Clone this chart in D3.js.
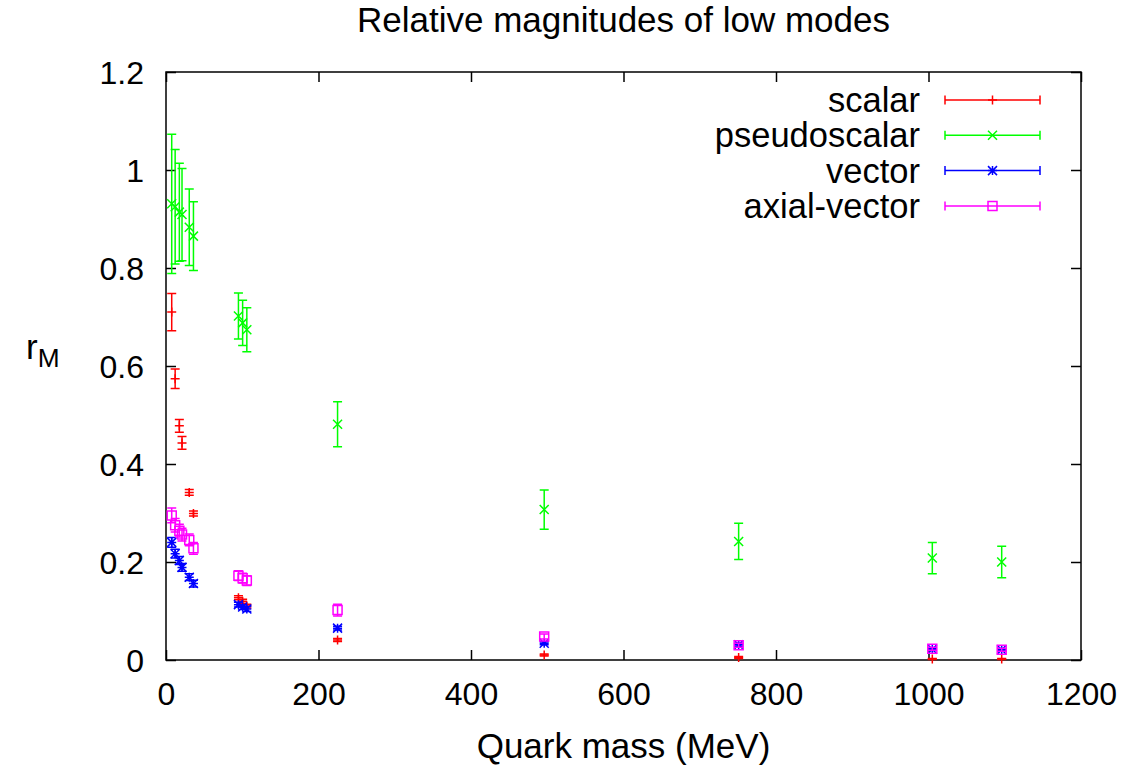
<!DOCTYPE html>
<html><head><meta charset="utf-8">
<script src="https://cdn.jsdelivr.net/npm/d3@7"></script>
<style>
html,body{margin:0;padding:0;background:#fff;}
text{font-family:"Liberation Sans",Arial,Helvetica,sans-serif;fill:#000;}
</style></head>
<body>
<svg id="chart" width="1132" height="768"></svg>
<script>
// ---- data ----
const chartTitle = "Relative magnitudes of low modes";
const xLabel = "Quark mass (MeV)";
const quarkMass = [7.5, 12, 17.5, 21, 30.5, 36, 95, 100.5, 106, 225, 496, 751, 1005, 1096];
const seriesNames = ["scalar", "pseudoscalar", "vector", "axial-vector"];
const scalarVal = [0.710, 0.574, 0.478, 0.443, 0.342, 0.299, 0.127, 0.120, 0.110, 0.041, 0.010, 0.005, 0.002, 0.002];
const scalarErr = [0.038, 0.020, 0.013, 0.013, 0.006, 0.005, 0.004, 0.004, 0.004, 0.003, 0.002, 0.002, 0.001, 0.001];
const pseudoVal = [0.931, 0.925, 0.914, 0.909, 0.883, 0.865, 0.702, 0.688, 0.674, 0.481, 0.307, 0.242, 0.208, 0.200];
const pseudoErr = [0.142, 0.117, 0.100, 0.094, 0.078, 0.070, 0.047, 0.046, 0.045, 0.046, 0.040, 0.037, 0.032, 0.032];
const vectorVal = [0.240, 0.217, 0.203, 0.189, 0.169, 0.156, 0.113, 0.108, 0.104, 0.065, 0.034, 0.031, 0.022, 0.021];
const vectorErr = [0.010, 0.009, 0.008, 0.008, 0.007, 0.007, 0.005, 0.005, 0.005, 0.004, 0.003, 0.003, 0.002, 0.002];
const axialVal  = [0.295, 0.275, 0.264, 0.256, 0.245, 0.228, 0.172, 0.167, 0.162, 0.102, 0.048, 0.030, 0.023, 0.021];
const axialErr  = [0.015, 0.014, 0.013, 0.013, 0.012, 0.012, 0.010, 0.010, 0.010, 0.012, 0.005, 0.004, 0.003, 0.003];
const xTicks = [0, 200, 400, 600, 800, 1000, 1200];
const yTicks = [0, 0.2, 0.4, 0.6, 0.8, 1, 1.2];

// ---- layout ----
const W = 1132, H = 768;
const M = {left:166, right:1081, top:72, bottom:660};
const FS = 32, FS_T = 35, FS_L = 34.5;
const svg = d3.select("#chart");
const x = d3.scaleLinear().domain([0,1200]).range([M.left, M.right]);
const y = d3.scaleLinear().domain([0,1.2]).range([M.bottom, M.top]);

const colors = ["#ff0000", "#00ff00", "#0000ff", "#ff00ff"];
const series = [
  {name:seriesNames[0], val:scalarVal, err:scalarErr, color:colors[0], shape:"plus"},
  {name:seriesNames[1], val:pseudoVal, err:pseudoErr, color:colors[1], shape:"cross"},
  {name:seriesNames[2], val:vectorVal, err:vectorErr, color:colors[2], shape:"star"},
  {name:seriesNames[3], val:axialVal, err:axialErr, color:colors[3], shape:"box"}
];

const tickLen = 10;
svg.append("rect").attr("x",M.left).attr("y",M.top)
  .attr("width",M.right-M.left).attr("height",M.bottom-M.top)
  .attr("fill","none").attr("stroke","#000").attr("stroke-width",1.5);

const axB = svg.append("g").attr("transform",`translate(0,${M.bottom})`)
  .call(d3.axisBottom(x).tickValues(xTicks).tickSize(-tickLen).tickPadding(22).tickFormat(d3.format("d")));
const axT = svg.append("g").attr("transform",`translate(0,${M.top})`)
  .call(d3.axisTop(x).tickValues(xTicks).tickSize(-tickLen).tickFormat(""));
const axL = svg.append("g").attr("transform",`translate(${M.left},0)`)
  .call(d3.axisLeft(y).tickValues(yTicks).tickSize(-tickLen).tickPadding(22).tickFormat(d => d===0||d===1 ? d3.format("d")(d) : d3.format(".1f")(d)));
const axR = svg.append("g").attr("transform",`translate(${M.right},0)`)
  .call(d3.axisRight(y).tickValues(yTicks).tickSize(-tickLen).tickFormat(""));
[axB,axT,axL,axR].forEach(g=>{
  g.select(".domain").remove();
  g.selectAll(".tick line").attr("stroke","#000").attr("stroke-width",1.5);
  g.selectAll(".tick text").attr("font-size",FS).attr("font-family",'"Liberation Sans",Arial,sans-serif').attr("fill","#000");
});
axB.selectAll(".tick text").attr("dy","0.71em");
axL.selectAll(".tick text").attr("dy","0.35em");

svg.append("text").attr("x",(M.left+M.right)/2).attr("y",32).attr("text-anchor","middle")
  .attr("font-size",FS_T).text(chartTitle);
svg.append("text").attr("x",(M.left+M.right)/2).attr("y",758).attr("text-anchor","middle")
  .attr("font-size",FS_T).text(xLabel);
const yl = svg.append("text").attr("x",26).attr("y",359).attr("font-size",FS_T);
yl.append("tspan").text("r");
yl.append("tspan").attr("font-size",FS_T*0.75).attr("dy",8).text("M");

const ms = 4.5;
function markerPath(shape, cx, cy){
  const p = d3.path();
  if(shape==="plus"||shape==="star"){
    p.moveTo(cx-ms,cy); p.lineTo(cx+ms,cy);
    p.moveTo(cx,cy-ms); p.lineTo(cx,cy+ms);
  }
  if(shape==="cross"||shape==="star"){
    p.moveTo(cx-ms,cy-ms); p.lineTo(cx+ms,cy+ms);
    p.moveTo(cx-ms,cy+ms); p.lineTo(cx+ms,cy-ms);
  }
  if(shape==="box"){
    p.rect(cx-ms,cy-ms,2*ms,2*ms);
  }
  return p.toString();
}
const cap = 4.5;
function errPath(cx, lo, hi){
  const p = d3.path();
  p.moveTo(cx,lo); p.lineTo(cx,hi);
  p.moveTo(cx-cap,lo); p.lineTo(cx+cap,lo);
  p.moveTo(cx-cap,hi); p.lineTo(cx+cap,hi);
  return p.toString();
}

const plot = svg.append("g");
series.forEach(s=>{
  const g = plot.append("g");
  quarkMass.forEach((m,i)=>{
    const cx = x(m), cy = y(s.val[i]);
    g.append("path").attr("d",errPath(cx, y(s.val[i]-s.err[i]), y(s.val[i]+s.err[i])))
      .attr("stroke",s.color).attr("stroke-width",1.5).attr("fill","none");
    g.append("path").attr("d",markerPath(s.shape,cx,cy))
      .attr("stroke",s.color).attr("stroke-width",1.5).attr("fill","none");
  });
});

const legTextX = 920, legX0 = 945, legX1 = 1040, legY0 = 100, legDy = 35.3;
series.forEach((s,i)=>{
  const ly = legY0 + i*legDy;
  svg.append("text").attr("x",legTextX).attr("y",ly).attr("dy","0.35em")
    .attr("text-anchor","end").attr("font-size",FS_L).text(s.name);
  const p = d3.path();
  p.moveTo(legX0,ly); p.lineTo(legX1,ly);
  p.moveTo(legX0,ly-cap); p.lineTo(legX0,ly+cap);
  p.moveTo(legX1,ly-cap); p.lineTo(legX1,ly+cap);
  svg.append("path").attr("d",p.toString()).attr("stroke",s.color).attr("stroke-width",1.5).attr("fill","none");
  svg.append("path").attr("d",markerPath(s.shape,(legX0+legX1)/2,ly))
    .attr("stroke",s.color).attr("stroke-width",1.5).attr("fill","none");
});
</script>
</body></html>
